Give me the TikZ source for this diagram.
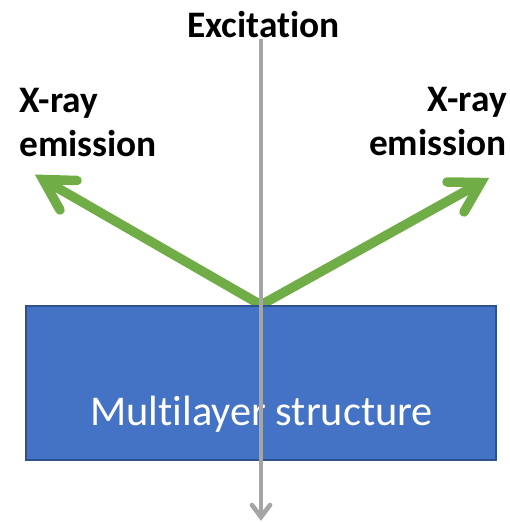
\documentclass[tikz,border=0pt]{standalone}
\usepackage{fontspec}
\setmainfont[Ligatures=NoCommon]{Carlito}
\tikzset{
  x=1pt,y=-1pt,
  lbl/.style={font=\bfseries\fontsize{37.4}{42}\selectfont,text=black,inner sep=0pt,align=left},
  greenline/.style={draw=arrowgreen,line width=9.5pt},
  greenhead/.style={draw=arrowgreen,line width=9.5pt,line cap=round,line join=miter},
  greyline/.style={draw=arrowgrey,line width=4.6pt},
  greyhead/.style={draw=arrowgrey,line width=4.6pt,line cap=round,line join=miter},
  layerbox/.style={draw=boxedge,line width=2pt,fill=boxblue,minimum width=470pt,minimum height=154pt,inner sep=0pt}
}
\definecolor{arrowgreen}{HTML}{70AD47}
\definecolor{arrowgrey}{HTML}{A5A5A5}
\definecolor{boxblue}{HTML}{4472C4}
\definecolor{boxedge}{HTML}{2F528F}
\begin{document}
\begin{tikzpicture}
\useasboundingbox (0,0) rectangle (510,523);
\coordinate (apex) at (261,305);
\coordinate (headL) at (43,179.5);
\coordinate (headR) at (481,182.5);
\coordinate (top) at (261,39);
\coordinate (headB) at (261,517);
\draw[greenline] (apex) -- (headL);
\draw[greenhead] (77,180.5) -- (headL) -- (60,210);
\draw[greenline] (apex) -- (headR);
\draw[greenhead] (447,182) -- (headR) -- (464,212);
\node[layerbox] (box) at (261,383) {};
\node[font=\fontsize{42.4}{47}\selectfont,text=white,inner sep=0pt,anchor=base] (boxlabel) at (261.5,425) {Multilayer structure};
\draw[greyline] (top) -- (headB);
\draw[greyhead] (252,505) -- (headB) -- (270,505);
\node[lbl,anchor=base] (exc) at (263.5,37) {Excitation};
\node[lbl,anchor=base west] (xl1) at (19,112.5) {X-ray};
\node[lbl,anchor=base west] (xl2) at (19,156.5) {emission};
\node[lbl,anchor=base east] (xr1) at (507,111.5) {X-ray};
\node[lbl,anchor=base east] (xr2) at (507,155.5) {emission};
\end{tikzpicture}
\end{document}
